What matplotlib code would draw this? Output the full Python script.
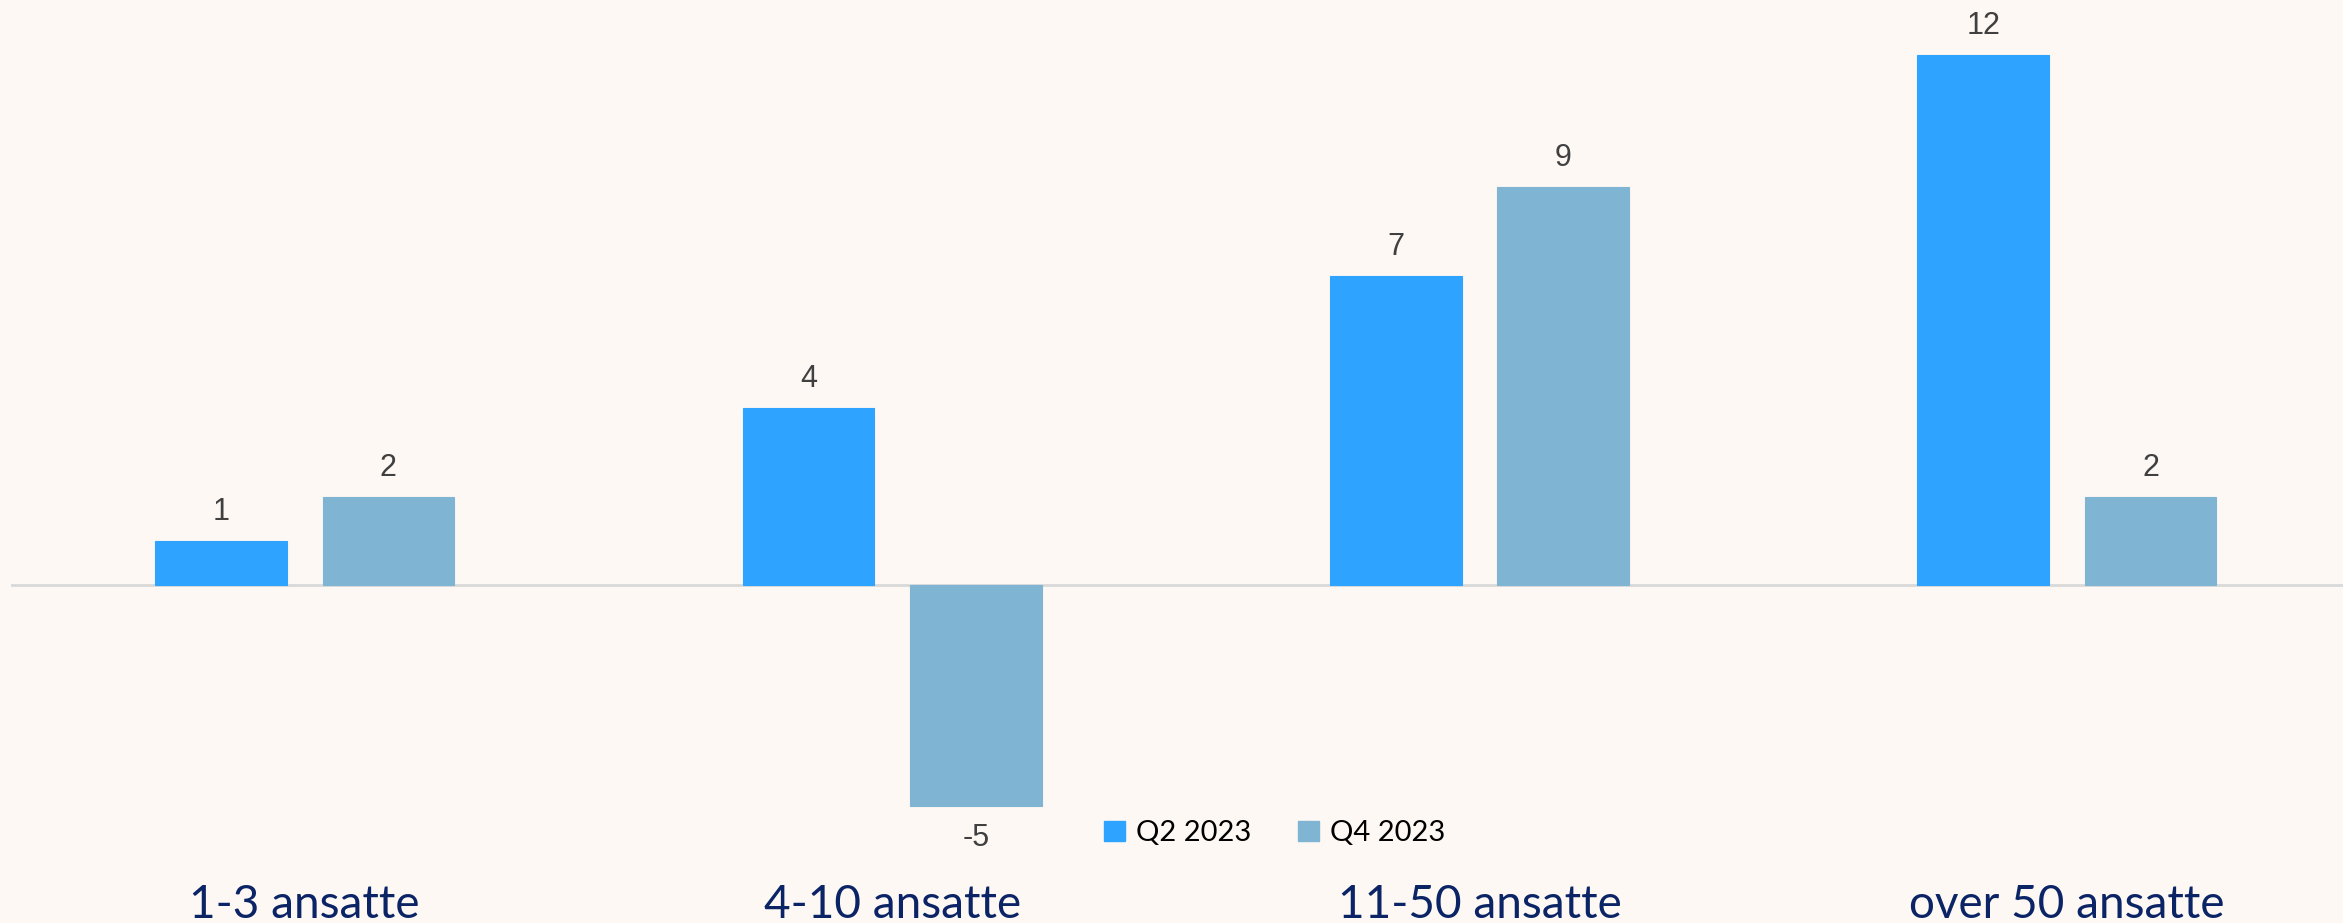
import matplotlib
matplotlib.use("Agg")
import matplotlib.pyplot as plt
import numpy as np
from matplotlib.patches import Rectangle

categories = ["1-3 ansatte", "4-10 ansatte", "11-50 ansatte", "over 50 ansatte"]
series_names = ["Q2 2023", "Q4 2023"]
q2_values = [1, 4, 7, 12]
q4_values = [2, -5, 9, 2]

colors = ["#2EA3FF", "#7FB4D3"]
bg = "#FDF8F4"

W, H, DPI = 2343, 923, 100
fig = plt.figure(figsize=(W / DPI, H / DPI), dpi=DPI, facecolor=bg)
left_px = 11
ax = fig.add_axes([left_px / W, 0, (W - left_px) / W, 1])
ax.set_facecolor(bg)

x = np.arange(len(categories))
width = 0.224
offset = 0.1425
font = "Lato"
label_font = "Liberation Sans"

for vals, off, col in [(q2_values, -offset, colors[0]), (q4_values, offset, colors[1])]:
    bars = ax.bar(x + off, vals, width, color=col, edgecolor=col, linewidth=0.8, zorder=2)
    for b, v in zip(bars, vals):
        if v >= 0:
            ax.annotate(str(v), (b.get_x() + b.get_width() / 2, v), xytext=(0, 10),
                        textcoords="offset points", ha="center", va="bottom",
                        fontsize=22, color="#404040", family=label_font)
        else:
            ax.annotate(str(v), (b.get_x() + b.get_width() / 2, v), xytext=(0, -12),
                        textcoords="offset points", ha="center", va="top",
                        fontsize=22, color="#404040", family=label_font)

ax.axhline(0, color="#D9D9D9", linewidth=2, zorder=1)

ax.set_xlim(-0.5, 3.47)
ax.set_ylim(-7.65, 13.24)
ax.axis("off")

for xi, c in zip(x, categories):
    ax.text(xi, -7.24, c, ha="center", va="center", fontsize=33, color="#0B2466",
            family=font, clip_on=False)

# legend
handles = [Rectangle((0, 0), 1, 1, color=c) for c in colors]
leg = fig.legend(handles, series_names, loc="center", bbox_to_anchor=(1275 / W, 1 - 833 / H),
                 ncol=2, frameon=False, handlelength=0.7, handleheight=0.7,
                 handletextpad=0.4, columnspacing=1.6, prop={"family": font, "size": 21})

fig.savefig("out.png", dpi=DPI, facecolor=bg)
